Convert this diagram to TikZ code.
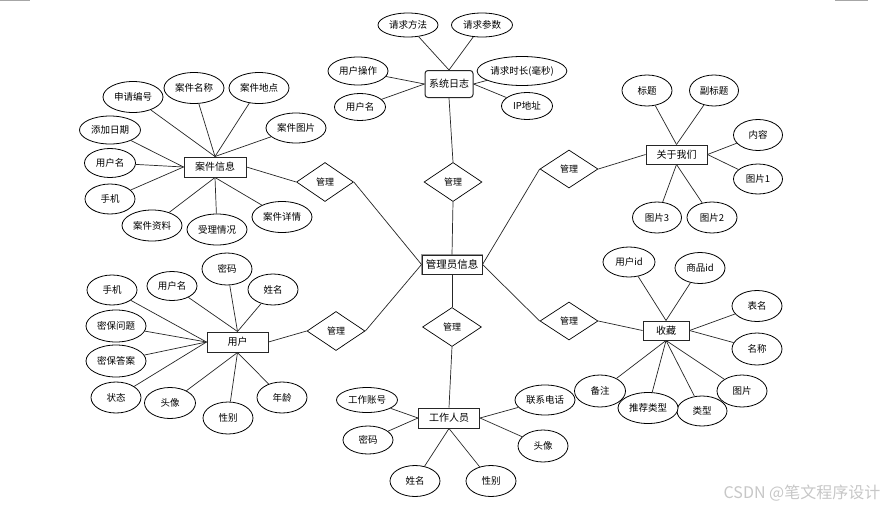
\documentclass[tikz,border=0pt]{standalone}
\usepackage{fontspec}
\setmainfont{Noto Sans CJK SC}
\usetikzlibrary{shapes.geometric}
\tikzset{
  sz/.style 2 args={minimum width=#1pt, minimum height=#2pt},
  attr/.style={ellipse, draw=black, line width=0.8pt, fill=white, inner sep=0pt, font=\fontsize{9.5}{10}\selectfont},
  ent/.style={rectangle, draw=black!85, line width=1pt, fill=white, inner sep=0pt, font=\fontsize{10}{11}\selectfont},
  rel/.style={diamond, draw=black, line width=0.7pt, fill=white, inner sep=0pt, font=\fontsize{9}{10}\selectfont},
  lk/.style={draw=black!85, line width=0.7pt},
  edgegray/.style={draw=black!35, line width=1.2pt},
  wm/.style={text=black!22, font=\fontsize{16}{17}\selectfont, inner sep=0pt},
}
\begin{document}
\begin{tikzpicture}[x=1pt, y=-1pt]
\useasboundingbox (0,0) rectangle (889,509);
\fill[white] (0,0) rectangle (889,509);
\draw[edgegray] (0,0.5) -- (30,0.5);
\draw[edgegray] (835,0.5) -- (868,0.5);

% central
\node[ent, sz={60}{19}, font=\fontsize{10.5}{11}\selectfont, preaction={draw=black!40, line width=2.6pt}] (adm) at (452,264.5) {管理员信息};

% system log
\node[ent, rounded corners=3pt, sz={48}{27}] (sys) at (449,84) {系统日志};
\node[attr, sz={60}{24}] (s1) at (408,25) {请求方法};
\node[attr, sz={61}{24}] (s2) at (482,25) {请求参数};
\node[attr, sz={60}{28}] (s3) at (358,71) {用户操作};
\node[attr, sz={51}{27}] (s4) at (360,107) {用户名};
\node[attr, sz={79}{29}] (s5) at (522,71) {请求时长(毫秒)};
\node[attr, sz={51}{27}] (s6) at (527,106) {IP地址};
\draw[lk] (s1) -- (sys.north);
\draw[lk] (s2) -- (sys.north);
\draw[lk] (s3) -- (sys.west);
\draw[lk] (s4) -- (sys.west);
\draw[lk] (s5) -- (sys.east);
\draw[lk] (s6) -- (sys.east);

% relations
\node[rel, sz={58}{39}] (d1) at (453,182) {管理};
\node[rel, sz={59}{39}] (d2) at (452,327) {管理};
\node[rel, sz={57}{39}] (d3) at (325,182) {管理};
\node[rel, sz={58}{39}] (d4) at (336,331) {管理};
\node[rel, sz={58}{38}] (d5) at (569,169) {管理};
\node[rel, sz={58}{38}] (d6) at (569,321) {管理};

% staff
\node[ent, sz={61}{20}] (wk) at (449,418) {工作人员};
\node[attr, sz={61}{25}] (w1) at (367,400) {工作账号};
\node[attr, sz={50}{28}] (w2) at (368,440) {密码};
\node[attr, sz={50}{31}] (w3) at (415,481) {姓名};
\node[attr, sz={50}{31}] (w4) at (491,481) {性别};
\node[attr, sz={60}{30}] (w5) at (545,400) {联系电话};
\node[attr, sz={50}{32}] (w6) at (543,446) {头像};
\draw[lk] (w1) -- (wk.west);
\draw[lk] (w2) -- (wk.west);
\draw[lk] (w3) -- (wk.south);
\draw[lk] (w4) -- (wk.south);
\draw[lk] (w5) -- (wk.east);
\draw[lk] (w6) -- (wk.east);

% about us
\node[ent, sz={61}{19}] (about) at (676.5,154.5) {关于我们};
\node[attr, sz={50}{31}] (a1) at (647,90.5) {标题};
\node[attr, sz={49}{31}] (a2) at (714,90.5) {副标题};
\node[attr, sz={49}{31}] (a3) at (758,135) {内容};
\node[attr, sz={49}{30}] (a4) at (758,179) {图片1};
\node[attr, sz={49}{31}] (a5) at (657,217.5) {图片3};
\node[attr, sz={50}{31}] (a6) at (712,217.5) {图片2};
\draw[lk] (a1) -- (about.north);
\draw[lk] (a2) -- (about.north);
\draw[lk] (a3) -- (about.east);
\draw[lk] (a4) -- (about.east);
\draw[lk] (a5) -- (about.south);
\draw[lk] (a6) -- (about.south);

% favourites
\node[ent, sz={46}{19}] (fav) at (666,330.5) {收藏};
\node[attr, sz={52}{30}] (f1) at (629,262) {用户id};
\node[attr, sz={50}{31}] (f2) at (700,268) {商品id};
\node[attr, sz={50}{31}] (f3) at (757,306) {表名};
\node[attr, sz={50}{32}] (f4) at (757,349) {名称};
\node[attr, sz={50}{32}] (f5) at (742,391) {图片};
\node[attr, sz={50}{30}] (f6) at (702,411) {类型};
\node[attr, sz={60}{31}] (f7) at (648,408) {推荐类型};
\node[attr, sz={51}{32}] (f8) at (600,391) {备注};
\draw[lk] (f1) -- (fav.north);
\draw[lk] (f2) -- (fav.north);
\draw[lk] (f3) -- (fav.east);
\draw[lk] (f4) -- (fav.east);
\draw[lk] (f5) -- (fav.south);
\draw[lk] (f6) -- (fav.south);
\draw[lk] (f7) -- (fav.south);
\draw[lk] (f8) -- (fav.south);

% case info
\node[ent, sz={62}{20}] (case) at (215,167) {案件信息};
\node[attr, sz={60}{31}] (c1) at (133,97) {申请编号};
\node[attr, sz={60}{31}] (c2) at (194,88) {案件名称};
\node[attr, sz={60}{31}] (c3) at (259,88) {案件地点};
\node[attr, sz={60}{30}] (c4) at (296,128) {案件图片};
\node[attr, sz={61}{28}] (c5) at (110,130) {添加日期};
\node[attr, sz={51}{29}] (c6) at (110,163) {用户名};
\node[attr, sz={50}{30}] (c7) at (110,199) {手机};
\node[attr, sz={60}{31}] (c8) at (152,225.5) {案件资料};
\node[attr, sz={60}{31}] (c9) at (217,229.5) {受理情况};
\node[attr, sz={60}{31}] (c10) at (282,217) {案件详情};
\draw[lk] (c1) -- (case.north);
\draw[lk] (c2) -- (case.north);
\draw[lk] (c3) -- (case.north);
\draw[lk] (c4) -- (case.north);
\draw[lk] (c5) -- (case.west);
\draw[lk] (c6) -- (case.west);
\draw[lk] (c7) -- (case.west);
\draw[lk] (c8) -- (case.south);
\draw[lk] (c9) -- (case.south);
\draw[lk] (c10) -- (case.south);

% user
\node[ent, sz={61}{20}] (user) at (237.5,342) {用户};
\node[attr, sz={50}{30}] (u1) at (112,290) {手机};
\node[attr, sz={50}{29}] (u2) at (172,286) {用户名};
\node[attr, sz={50}{32}] (u3) at (227,269) {密码};
\node[attr, sz={50}{31}] (u4) at (273,289.5) {姓名};
\node[attr, sz={60}{32}] (u5) at (116,326) {密保问题};
\node[attr, sz={60}{32}] (u6) at (116,361) {密保答案};
\node[attr, sz={50}{31}] (u7) at (116,397.5) {状态};
\node[attr, sz={51}{31}] (u8) at (170,403) {头像};
\node[attr, sz={50}{32}] (u9) at (228,418) {性别};
\node[attr, sz={50}{31}] (u10) at (282,397.5) {年龄};
\draw[lk] (u1) -- (user.west);
\draw[lk] (u2) -- (user.north);
\draw[lk] (u3) -- (user.north);
\draw[lk] (u4) -- (user.north);
\draw[lk] (u5) -- (user.west);
\draw[lk] (u6) -- (user.west);
\draw[lk] (u7) -- (user.west);
\draw[lk] (u8) -- (user.south);
\draw[lk] (u9) -- (user.south);
\draw[lk] (u10) -- (user.south);

% relation links
\draw[lk] (sys.south) -- (d1.north);
\draw[lk] (d1.south) -- (adm.north);
\draw[lk] (adm.south) -- (d2.north);
\draw[lk] (d2.south) -- (wk.north);
\draw[lk] (case.east) -- (d3.west);
\draw[lk] (d3.east) -- (adm.west);
\draw[lk] (user.east) -- (d4.west);
\draw[lk] (d4.east) -- (adm.west);
\draw[lk] (adm.east) -- (d5.west);
\draw[lk] (d5.east) -- (about.west);
\draw[lk] (adm.east) -- (d6.west);
\draw[lk] (d6.east) -- (fav.west);

% watermark
\node[wm] (wmk) at (802,493) {CSDN @笔文程序设计};
\end{tikzpicture}
\end{document}
